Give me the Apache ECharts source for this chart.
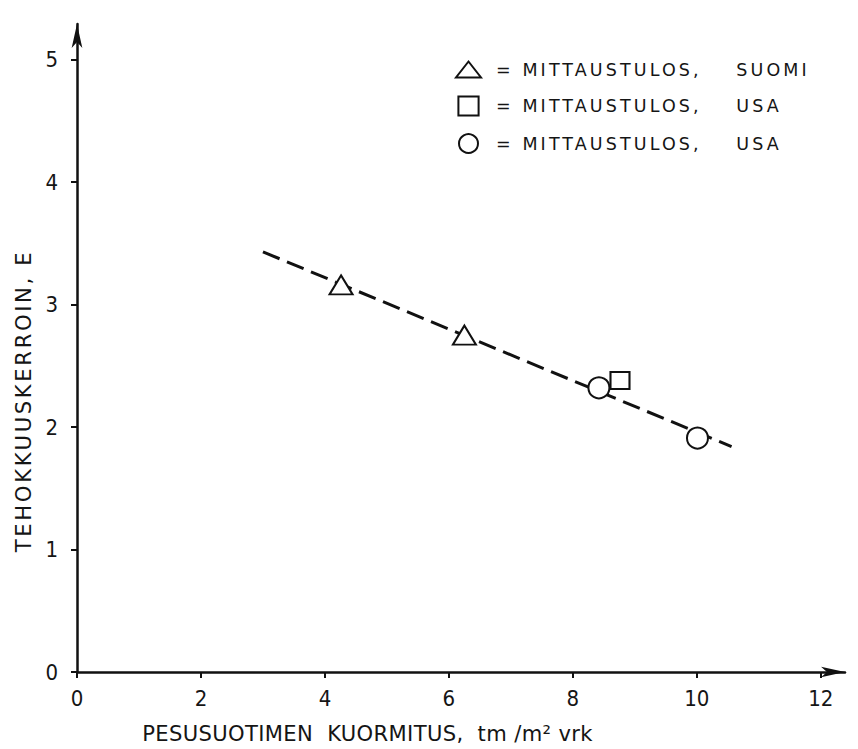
<!DOCTYPE html>
<html>
<head>
<meta charset="utf-8">
<script src="https://cdn.jsdelivr.net/npm/echarts@6/dist/echarts.min.js"></script>
<style>
  html, body { margin: 0; padding: 0; background: #ffffff; }
  #chart { width: 858px; height: 749px; }
  #chart text { white-space: pre; }
  #chart text[style*="17.5px"] { letter-spacing: 3.1px; }
  #chart text[style*="21.2px"] { letter-spacing: 2.6px; }
  #chart text[style*="21.1px"] { letter-spacing: 0.35px; }
</style>
</head>
<body>
<div id="chart"></div>
<script>
// ---- data ----
const xTicks = [0, 2, 4, 6, 8, 10, 12];
const yTicks = [0, 1, 2, 3, 4, 5];
const suomiX = [4.26, 6.25];
const suomiY = [3.16, 2.75];
const usaSquareX = [8.76];
const usaSquareY = [2.38];
const usaCircleX = [8.42, 10.01];
const usaCircleY = [2.32, 1.91];
const trendX = [3.0, 10.56];
const trendY = [3.43, 1.84];
const seriesNames = ['suomi', 'usaSquare', 'usaCircle'];
const legendLabels = ['= MITTAUSTULOS,    SUOMI', '= MITTAUSTULOS,    USA', '= MITTAUSTULOS,    USA'];
const xName = 'PESUSUOTIMEN  KUORMITUS,  tm /m\u00b2 vrk';
const yName = 'TEHOKKUUSKERROIN, E';

const pair = (xs, ys) => xs.map((x, i) => [x, ys[i]]);
const ink = '#111111';
const markerStyle = { color: '#ffffff', borderColor: ink, borderWidth: 2, opacity: 1 };

const chart = echarts.init(document.getElementById('chart'), null, { renderer: 'svg' });
chart.setOption({
  backgroundColor: '#ffffff',
  animation: false,
  grid: { left: 77, right: 13, top: 24, bottom: 77, containLabel: false },
  legend: {
    orient: 'vertical',
    left: 455,
    top: 60,
    padding: 0,
    itemWidth: 25,
    itemHeight: 19,
    itemGap: 16.5,
    symbolKeepAspect: true,
    formatter: name => legendLabels[seriesNames.indexOf(name)],
    itemStyle: { opacity: 1 },
    textStyle: {
      fontFamily: 'DejaVu Sans',
      fontSize: 17.5,
      color: '#151515',
      lineHeight: 19,
      padding: [0, 0, 0, 10]
    },
    data: [
      { name: seriesNames[0], icon: 'path://M12.5,0L25,16L0,16Z' },
      { name: seriesNames[1], icon: 'path://M0,0L17,0L17,16L0,16Z' },
      { name: seriesNames[2], icon: 'circle' }
    ]
  },
  xAxis: {
    type: 'value',
    min: 0,
    max: 12.39,
    name: xName,
    nameLocation: 'middle',
    nameGap: 51,
    nameTextStyle: {
      fontFamily: 'DejaVu Sans',
      fontSize: 21.1,
      color: '#151515',
      padding: [0, 187, 0, 0]
    },
    axisLine: {
      show: true,
      symbol: ['none', 'arrow'],
      symbolSize: [8, 24],
      lineStyle: { color: ink, width: 2.5 }
    },
    axisTick: { show: true, length: 6, customValues: xTicks, lineStyle: { color: ink, width: 2 } },
    axisLabel: {
      customValues: xTicks,
      margin: 15,
      fontFamily: 'DejaVu Sans Condensed',
      fontSize: 22,
      color: '#151515'
    },
    splitLine: { show: false }
  },
  yAxis: {
    type: 'value',
    min: 0,
    max: 5.29,
    name: yName,
    nameLocation: 'middle',
    nameRotate: 90,
    nameGap: 43,
    nameTextStyle: {
      fontFamily: 'DejaVu Sans',
      fontSize: 21.2,
      color: '#151515',
      padding: [0, 106, 0, 0]
    },
    axisLine: {
      show: true,
      symbol: ['none', 'arrow'],
      symbolSize: [8, 24],
      lineStyle: { color: ink, width: 2.5 }
    },
    axisTick: { show: true, length: 6, customValues: yTicks, lineStyle: { color: ink, width: 2 } },
    axisLabel: {
      customValues: yTicks,
      margin: 19,
      fontFamily: 'DejaVu Sans Condensed',
      fontSize: 22,
      color: '#151515'
    },
    splitLine: { show: false }
  },
  series: [
    {
      type: 'line',
      name: 'trend',
      data: pair(trendX, trendY),
      showSymbol: false,
      symbol: 'none',
      lineStyle: { color: ink, width: 3, type: [18, 8] },
      z: 1,
      silent: true
    },
    {
      type: 'scatter',
      name: seriesNames[0],
      data: pair(suomiX, suomiY),
      symbol: 'triangle',
      symbolSize: [23, 19],
      itemStyle: markerStyle,
      z: 3
    },
    {
      type: 'scatter',
      name: seriesNames[1],
      data: pair(usaSquareX, usaSquareY),
      symbol: 'rect',
      symbolSize: [19, 17],
      itemStyle: markerStyle,
      z: 3
    },
    {
      type: 'scatter',
      name: seriesNames[2],
      data: pair(usaCircleX, usaCircleY),
      symbol: 'circle',
      symbolSize: 21,
      itemStyle: markerStyle,
      z: 3
    }
  ]
});
</script>
</body>
</html>
